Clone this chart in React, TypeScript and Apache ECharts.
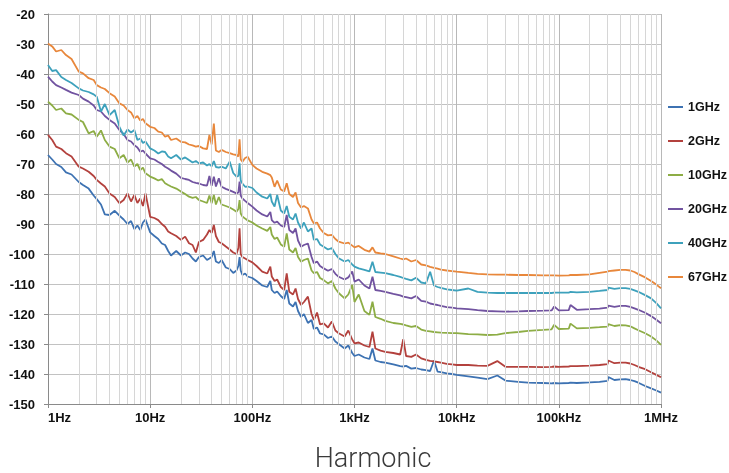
import React, { useEffect, useRef } from "react";
import * as echarts from "echarts";

// Shared frequency grid (Hz)
const FREQ = [
  1, 1.1, 1.2, 1.35, 1.5, 1.7, 2, 2.2, 2.5, 2.8,
  3, 3.3, 3.6, 4, 4.5, 5, 5.5, 6, 6.5, 7,
  7.5, 8, 8.5, 9, 10, 11, 12, 13, 14, 15,
  16, 18, 20, 22, 24, 26, 28, 30, 33, 36,
  38, 40, 42, 44, 47, 50, 55, 60, 65, 70,
  73, 75, 77, 80, 85, 90, 100, 110, 125, 140,
  150, 155, 165, 175, 190, 205, 217, 230, 250, 265,
  280, 300, 320, 350, 380, 400, 430, 460, 500, 550,
  600, 650, 700, 800, 870, 950, 1000, 1100, 1250, 1400,
  1500, 1600, 1800, 2000, 2400, 2800, 3000, 3200, 3600, 4000,
  4500, 5000, 5500, 6000, 6500, 7000, 8000, 9000, 10000, 13000,
  16000, 20000, 25000, 30000, 40000, 50000, 70000, 85000, 90000, 100000,
  125000, 130000, 150000, 200000, 250000, 300000, 305000, 350000, 400000, 450000,
  500000, 550000, 600000, 700000, 800000, 900000, 1000000,
];

const S_1GHZ = [
  -67, -68.5, -70, -71, -72.8, -73.5, -76, -77, -78.2, -80.5,
  -81.7, -83.5, -86.8, -87, -85.6, -87.2, -88.5, -90, -89, -91.7,
  -90.5, -92, -89.5, -88.5, -92.8, -94, -95, -96.5, -97, -99,
  -100.5, -99, -100.5, -99.5, -100, -101.5, -102.5, -101, -100.5, -102,
  -101.5, -101, -99, -102.5, -103, -102, -104.5, -105, -106.3, -105.5,
  -104, -101, -105.5, -107, -106.5, -107.5, -108, -109, -110.5, -111,
  -109, -112, -113, -112.5, -114, -115, -112, -116.5, -117.5, -116,
  -119, -121, -120, -123, -122, -125, -124.5, -126.5, -126.8, -128,
  -127.5, -129.2, -130, -131.5, -130.5, -133, -134, -133.5, -134.5, -135,
  -131.5, -135.5, -136, -136.2, -136.8, -137.4, -137.5, -137.3, -138.2, -138,
  -138.5, -138.7, -139, -135.5, -139.2, -139.4, -139.8, -140, -140.3, -140.8,
  -141.2, -141.7, -140.5, -142.2, -142.6, -142.9, -143, -143.1, -143, -143.1,
  -143, -142.9, -143, -142.8, -142.6, -142.3, -141, -142, -141.8, -141.7,
  -142, -142.4, -142.9, -144, -144.8, -145.5, -146.2,
];

const S_2GHZ = [
  -60.3, -62, -64.2, -65, -66.4, -67.5, -70.9, -71.5, -72.6, -74,
  -75.3, -76.5, -77.5, -79.8, -81, -83.1, -82, -79.8, -82.5, -80.3,
  -83, -81.5, -84, -79.8, -87.6, -88, -88.7, -90, -90.9, -92.5,
  -93.1, -94, -95.3, -94.2, -96.4, -97, -99.5, -96, -95.3, -93.5,
  -92, -93, -90.3, -94, -96, -96.4, -97.5, -98.5, -99.5, -100,
  -98, -91.4, -100, -101, -101.5, -102, -102.8, -104, -105.9, -106.5,
  -104.2, -107.5, -109, -108.5, -111, -112, -106.5, -112.6, -113.5, -111.5,
  -115, -117, -116, -114.2, -120, -122, -119.5, -123.5, -123.1, -124.5,
  -122.5, -125.5, -126.4, -127.5, -125.5, -128.5, -129.8, -129.5, -130.5, -131,
  -125.9, -131.5, -132.2, -132.6, -133, -133.5, -128.4, -134, -134.3, -133.5,
  -134.8, -135.3, -135.6, -135.8, -136, -136.2, -136.6, -136.8, -137, -137,
  -137.2, -137.3, -135.7, -137.6, -137.6, -137.6, -137.7, -137.6, -137.5, -137.6,
  -137.5, -137.4, -137.4, -137.2, -137, -136.7, -135.5, -136.4, -136.2, -136.2,
  -136.5, -137, -137.6, -138.4, -139.4, -140.3, -141.1,
];

const S_10GHZ = [
  -49.2, -50.5, -52, -51.5, -53.1, -53.5, -55.3, -56, -59.8, -59,
  -60.9, -58.8, -62, -64.2, -65, -68.1, -67, -69.5, -68.5, -70.9,
  -70, -72, -71.2, -73.1, -74.2, -74.8, -75.5, -75, -76.4, -77,
  -77.5, -78.2, -79.2, -80, -80.9, -81.3, -81, -82, -82.5, -83,
  -80.5, -83.1, -80.3, -83.5, -81, -83.5, -84, -84.5, -85.2, -85.9,
  -85, -82, -86.5, -87.5, -88.2, -88.8, -89.5, -90.5, -91.5, -92.3,
  -91, -93.5, -95, -94.5, -96.8, -97.6, -93.1, -98.5, -99.5, -98,
  -101, -102.6, -102, -101.5, -105.5, -106.4, -106, -108, -108.7, -109.8,
  -109, -111.5, -113, -114.8, -113.5, -110.3, -116, -113.5, -119, -120.3,
  -115.9, -121, -121.6, -122.3, -123, -123.3, -123.5, -123.8, -124.3, -124,
  -125.2, -125.6, -125.8, -126, -126.1, -126.2, -126.3, -126.4, -126.4, -126.7,
  -126.8, -127, -126.9, -126.4, -126, -125.6, -125.3, -125.1, -123.6, -125,
  -124.9, -123.2, -124.8, -124.6, -124.4, -124.2, -123.4, -124, -123.7, -123.8,
  -124.1, -124.8, -125.4, -126.4, -127.5, -128.8, -130.3,
];

const S_20GHZ = [
  -40.9, -42.5, -43.7, -44.5, -45.3, -46.2, -47, -48.2, -49.2, -50.5,
  -52, -52.5, -54, -55.3, -56.5, -58.7, -60, -62, -62.5, -63.7,
  -64.5, -65.9, -65.5, -66.5, -68.1, -68.5, -69.3, -70, -70.9, -71.5,
  -72.2, -73.2, -74.6, -75, -75.3, -76, -76.3, -76.5, -77, -77.2,
  -74, -77.3, -74.2, -77.5, -74.8, -77.6, -78.3, -78.8, -79.3, -79.8,
  -79.5, -75.9, -80.5, -81.5, -82.3, -83, -84.2, -85.5, -86.8, -87.5,
  -86, -88.7, -89.6, -89.2, -90.5, -91, -87, -92, -93, -91.5,
  -95.5, -97.6, -97, -96.5, -101, -103.1, -102.5, -104, -104.8, -105.6,
  -105, -106.6, -107.6, -108.5, -107.8, -105.8, -109.2, -108.5, -110.5, -111.5,
  -107.6, -112, -112.3, -112.6, -113.3, -113.8, -114.2, -114.4, -114.8, -114,
  -115.6, -115.9, -116.5, -116.8, -117, -117.3, -117.7, -117.9, -118.1, -118.4,
  -118.7, -119, -119.1, -119.2, -119.1, -119, -118.9, -118.8, -117.5, -118.8,
  -118.7, -117, -118.6, -118.4, -118.2, -117.9, -117.2, -117.6, -117.3, -117.3,
  -117.6, -118.1, -118.6, -119.6, -120.7, -121.9, -123.1,
];

const S_40GHZ = [
  -37, -39, -38.7, -41, -42, -43, -44.8, -45.5, -46, -46.8,
  -47.6, -52.5, -50, -53.7, -52, -57.6, -60.5, -58.5, -59.5, -58.7,
  -62, -61.5, -63, -62.5, -64.8, -65.5, -66.5, -65.8, -66, -67.5,
  -68.1, -67, -68.5, -67.8, -68.7, -69.5, -69, -69.8, -69.5, -70.5,
  -70, -70.8, -69, -71, -71.2, -70.9, -71.5, -69.2, -73, -74.2,
  -74, -69.8, -75.5, -76.5, -77.6, -77.5, -78, -79.5, -80.9, -81.5,
  -80, -82.5, -84.2, -80.3, -85.5, -86.5, -84, -87.6, -88.5, -86.5,
  -89.5, -91.5, -89.5, -92.5, -91.5, -95.3, -95, -96.8, -97.6, -98.5,
  -98, -100, -101.4, -102.5, -102, -103.5, -104.2, -104.8, -105.3, -105.8,
  -102.6, -106, -106.2, -106.4, -107, -107.6, -108, -108.3, -108.8, -107.9,
  -109.5, -109.8, -105.9, -110.5, -111, -111.3, -111.8, -112, -112.2, -111.5,
  -112.6, -112.9, -113, -113, -113, -113, -113, -113, -112.9, -112.9,
  -112.9, -112.6, -112.8, -112.6, -112.3, -112, -111.2, -111.6, -111.4, -111.4,
  -111.6, -112.1, -112.6, -113.7, -114.8, -116.4, -118.1,
];

const S_67GHZ = [
  -29.8, -30.8, -32.5, -32, -33.7, -35, -39.2, -39.8, -41.4, -42,
  -43.7, -44.5, -45, -46.4, -47.5, -49.8, -50.5, -52, -52.8, -54.8,
  -54, -55.5, -55, -56.4, -57.6, -58, -59.2, -59.5, -60.9, -60.5,
  -62, -61.5, -62.6, -62.8, -63.5, -63.8, -64.2, -64, -64.8, -65,
  -60.3, -63.5, -56.5, -65.5, -66, -65.3, -66, -66.4, -66.8, -67,
  -67.5, -61.8, -68.5, -69.2, -68, -67.6, -70.3, -71.5, -72.6, -73.2,
  -73.7, -74.5, -77.6, -75.5, -78.5, -79.2, -76.4, -80, -81, -79.5,
  -83, -84.5, -84, -84.8, -88.5, -89.8, -89.5, -91.5, -93, -93.8,
  -93.6, -95, -95.9, -96.5, -96.2, -97.2, -97.8, -97.3, -98.6, -99.2,
  -97.8, -99.5, -99.8, -100, -100.8, -101.5, -101.8, -101.5, -102.5, -102,
  -103.5, -103.8, -104.3, -104.6, -104.9, -105.2, -105.5, -105.7, -105.9, -106.3,
  -106.6, -106.8, -106.9, -106.9, -107, -107, -107.1, -107.1, -107.1, -107.2,
  -107.1, -107, -107, -106.8, -106.3, -105.9, -105.7, -105.5, -105.3, -105.3,
  -105.5, -106, -106.7, -107.8, -109, -110.2, -111.4,
];

const SERIES_NAMES = ["1GHz", "2GHz", "10GHz", "20GHz", "40GHz", "67GHz"];
const SERIES_VALUES = [S_1GHZ, S_2GHZ, S_10GHZ, S_20GHZ, S_40GHZ, S_67GHZ];
const COLORS = ["#3D72B2", "#B3413D", "#8DAD45", "#7153A0", "#3DA1BC", "#E8873B"];

const X_TICK_LABELS = ["1Hz", "10Hz", "100Hz", "1kHz", "10kHz", "100kHz", "1MHz"];
const DECADES = [1, 10, 100, 1000, 10000, 100000];
const MINOR_MULTS = [2, 3, 4, 5, 6, 7, 8, 9];

const Y_MIN = -150;
const Y_MAX = -20;
const Y_STEP = 10;

export default function App() {
  const ref = useRef<HTMLDivElement>(null);

  useEffect(() => {
    if (!ref.current) return;
    const chart = echarts.init(ref.current, undefined, { renderer: "svg" });

    const minorLines: any[] = [];
    DECADES.forEach((d) => MINOR_MULTS.forEach((m) => minorLines.push({ xAxis: m * d })));

    const font = "'Liberation Sans', Arial, sans-serif";

    const series: any[] = [
      {
        name: "__grid",
        type: "line",
        data: [],
        z: 1,
        silent: true,
        markLine: {
          silent: true,
          symbol: ["none", "none"],
          label: { show: false },
          lineStyle: { color: "#d6d6d6", width: 1, type: "solid" },
          emphasis: { disabled: true },
          animation: false,
          data: minorLines,
        },
      },
    ];
    SERIES_NAMES.forEach((name, i) => {
      series.push({
        name,
        type: "line",
        data: FREQ.map((f, j) => [f, SERIES_VALUES[i][j]]),
        showSymbol: false,
        symbol: "none",
        z: 3,
        lineStyle: { width: 1.8, color: COLORS[i] },
        itemStyle: { color: COLORS[i] },
      });
    });

    chart.setOption({
      animation: false,
      title: {
        text: "Harmonic",
        left: 368,
        top: 438,
        textAlign: "center",
        textStyle: {
          fontFamily: "Roboto, 'Noto Sans', sans-serif",
          fontWeight: 300,
          fontSize: 27,
          lineHeight: 30,
          color: "#3a3a3a",
        },
      },
      grid: { left: 48, right: 68, top: 14, bottom: 69, containLabel: false },
      legend: {
        data: SERIES_NAMES,
        orient: "vertical",
        left: 668,
        top: 100,
        padding: 0,
        icon: "rect",
        itemWidth: 15,
        itemHeight: 2,
        itemGap: 20,
        textStyle: {
          fontFamily: font,
          fontWeight: "bold",
          fontSize: 12.5,
          lineHeight: 14,
          color: "#111",
        },
      },
      xAxis: {
        type: "log",
        logBase: 10,
        min: 1,
        max: 1000000,
        splitNumber: 6,
        axisLine: { lineStyle: { color: "#8a8a8a", width: 1 } },
        axisTick: { show: true, length: 4, lineStyle: { color: "#8a8a8a" } },
        splitLine: { show: true, lineStyle: { color: "#b8b8b8", width: 1 } },
        axisLabel: {
          margin: 7,
          fontFamily: font,
          fontWeight: "bold",
          fontSize: 13,
          color: "#111",
          alignMinLabel: "left",
          formatter: (v: number) => X_TICK_LABELS[Math.round(Math.log10(v))] ?? "",
        },
      },
      yAxis: {
        type: "value",
        min: Y_MIN,
        max: Y_MAX,
        interval: Y_STEP,
        axisLine: { show: true, lineStyle: { color: "#8a8a8a", width: 1 } },
        axisTick: { show: true, length: 4, lineStyle: { color: "#8a8a8a" } },
        splitLine: { show: true, lineStyle: { color: "#c2c2c2", width: 1 } },
        axisLabel: {
          margin: 13,
          fontFamily: font,
          fontWeight: "bold",
          fontSize: 13,
          color: "#111",
        },
      },
      series,
    });

    return () => chart.dispose();
  }, []);

  return (
    <div
      ref={ref}
      style={{ position: "fixed", left: 0, top: 0, width: 729, height: 473 }}
    />
  );
}
